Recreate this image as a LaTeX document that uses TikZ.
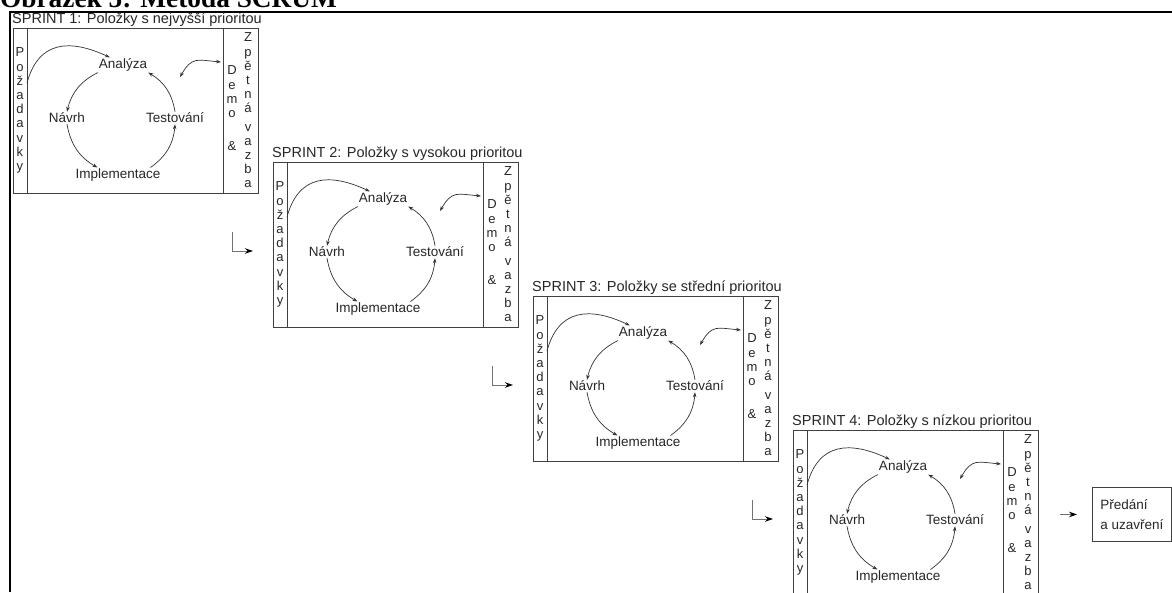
\documentclass[tikz,border=0pt]{standalone}
\usepackage{fontspec}
\setmainfont{Liberation Sans}
\newfontfamily\captionfont{Liberation Serif}
\usetikzlibrary{arrows.meta,positioning}

\tikzset{
  outerline/.style={line width=2pt},
  sprintbox/.style={draw=black!75, line width=0.9pt, minimum width=245pt, minimum height=165pt, inner sep=0pt, anchor=north west},
  divider/.style={draw=black!75, line width=0.9pt},
  sprintlabel/.style={font=\fontsize{14.5}{16}\selectfont, text=black!85, inner sep=0pt, anchor=base west},
  phase/.style={font=\fontsize{13.5}{15}\selectfont, text=black!85, inner sep=1pt},
  letters/.style={font=\fontsize{13}{14.2}\selectfont, text=black!85, align=center, inner sep=0pt, anchor=north},
  flow/.style={draw=black!80, line width=0.7pt, -{Stealth[length=5pt,width=3.6pt]}},
  nextstep/.style={draw=black!55, line width=1pt, -{Stealth[length=8pt,width=5.5pt,black]}},
  endbox/.style={draw=black!75, line width=0.9pt, align=left, anchor=north west, minimum width=79pt, minimum height=54pt, inner sep=0pt, font=\fontsize{13.5}{19.5}\selectfont, text=black!85}
}

\begin{document}
\lineskiplimit=-20pt
\begin{tikzpicture}[x=1pt,y=1pt]
  \useasboundingbox (0,0) rectangle (1172,-592);
  % caption, cut by the top edge
  \node[font=\captionfont\bfseries\fontsize{27.3}{30}\selectfont, inner sep=0pt, anchor=base west] (title) at (0,-7.5) {Obrázek 5: Metoda SCRUM};
  \draw[outerline] (10,-592) -- (10,-11.5) -- (1175,-11.5);

  \foreach \s/\txt in {1/{Položky s nejvyšší prioritou}, 2/{Položky s vysokou prioritou}, 3/{Položky se střední prioritou}, 4/{Položky s nízkou prioritou}} {
    \begin{scope}[shift={({260*(\s-1)},{-134*(\s-1)})}]
      \node[sprintbox] (box\s) at (13,-28) {};
      \node[sprintlabel] (lab\s) at (12,-23) {SPRINT \s: \txt};
      \draw[divider] ([xshift=14pt]box\s.north west) -- ([xshift=14pt]box\s.south west);
      \draw[divider] ([xshift=-35pt]box\s.north east) -- ([xshift=-35pt]box\s.south east);
      \node[letters] (req\s) at (20,-47.7) {P\\o\\ž\\a\\d\\a\\v\\k\\y};
      \node[letters] (demo\s) at (232,-65.7) {D\\e\\m\\o\\[19pt]\&};
      \node[letters] (zpv\s) at (248,-32.7) {Z\\p\\ě\\t\\n\\á\\[4pt]v\\a\\z\\b\\a};
      % the cycle
      \node[phase] (ana\s) at (123,-65) {Analýza};
      \node[phase] (nav\s) at (67,-118) {Návrh};
      \node[phase] (tes\s) at (175,-118) {Testování};
      \node[phase] (imp\s) at (118,-175) {Implementace};
      \draw[flow] (ana\s.south west) to[bend right=25] (nav\s.north);
      \draw[flow] (nav\s.south) to[bend right=25] (imp\s.160);
      \draw[flow] (imp\s.13) to[bend right=25] (tes\s.south);
      \draw[flow] (tes\s.north) to[bend right=25] (ana\s.south east);
      % requirements in, demo and feedback
      \coordinate (rq\s) at (27,-83);
      \draw[flow] (rq\s) to[out=75, in=155, looseness=1.3] (ana\s.150);
      \coordinate (fbl\s) at (180,-77);
      \coordinate (fbr\s) at (221,-62);
      \draw[flow, {Stealth[length=5pt,width=3.6pt]}-{Stealth[length=5pt,width=3.6pt]}] (fbl\s) to[out=60, in=175, looseness=1.4] (fbr\s);
    \end{scope}
  }

  % step into the next sprint
  \foreach \s in {2,3,4} {
    \coordinate (in\s) at ([xshift=-41pt,yshift=-70pt]box\s.north west);
    \draw[nextstep] (in\s) |- ([xshift=-20pt,yshift=-89pt]box\s.north west);
  }

  \node[endbox] (done) at (1092,-487) {Předání\\a uzavření};
  \draw[nextstep] ([xshift=-32pt]done.west) -- ([xshift=-15pt]done.west);
\end{tikzpicture}
\end{document}
